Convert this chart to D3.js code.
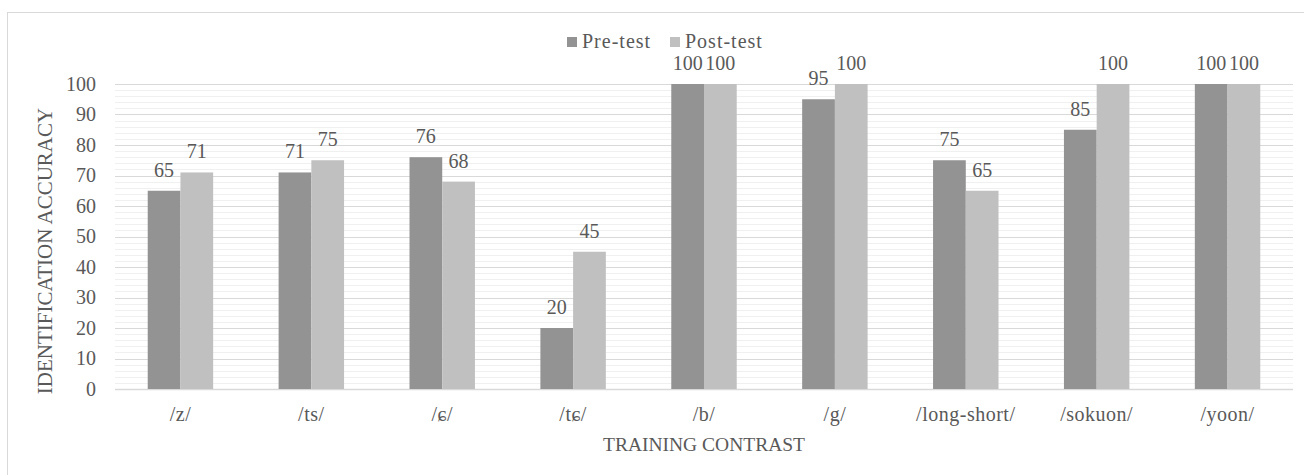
<html>
<head>
<script src="https://d3js.org/d3.v7.min.js"></script>
<style>
  body { margin: 0; background: #fff; }
  .lbl { font-family: "Liberation Serif"; fill: #595959; }
</style>
</head>
<body>
<svg id="chart" width="1304" height="475"></svg>
<script>
const categories = ["/z/", "/ts/", "/ɕ/", "/tɕ/", "/b/", "/g/", "/long-short/", "/sokuon/", "/yoon/"];
const preTest = [65, 71, 76, 20, 100, 95, 75, 85, 100];
const postTest = [71, 75, 68, 45, 100, 100, 65, 100, 100];
const seriesNames = ["Pre-test", "Post-test"];
const yTicks = [0, 10, 20, 30, 40, 50, 60, 70, 80, 90, 100];

const colors = ["#939393", "#c0c0c0"];

const svg = d3.select("#chart");
const margin = { top: 84, right: 11, bottom: 86, left: 115 };
const width = 1304 - margin.left - margin.right;
const height = 475 - margin.top - margin.bottom;

// outer border
svg.append("rect")
  .attr("x", 7.5).attr("y", 12.5)
  .attr("width", 1300).attr("height", 470)
  .attr("fill", "none").attr("stroke", "#d9d9d9");

const g = svg.append("g").attr("transform", `translate(${margin.left},${margin.top})`);

const x = d3.scaleBand().domain(categories).range([0, width]).paddingInner(0.5).paddingOuter(0.25);
const xs = d3.scaleBand().domain(seriesNames).range([0, x.bandwidth()]);
const y = d3.scaleLinear().domain([0, 100]).range([height, 0]);

// minor gridlines
g.selectAll("line.minor").data(d3.range(2, 100, 2).filter(v => v % 10 !== 0))
  .join("line").attr("class", "minor")
  .attr("x1", 0).attr("x2", width)
  .attr("y1", d => Math.round(y(d)) + 0.5).attr("y2", d => Math.round(y(d)) + 0.5)
  .attr("stroke", "#f0f0f0");

// major gridlines
g.selectAll("line.major").data(yTicks)
  .join("line").attr("class", "major")
  .attr("x1", 0).attr("x2", width)
  .attr("y1", d => Math.round(y(d)) + 0.5).attr("y2", d => Math.round(y(d)) + 0.5)
  .attr("stroke", "#d9d9d9").attr("stroke-width", d => d === 0 ? 1.5 : 1);

// y axis labels
const yAxis = g.append("g").call(d3.axisLeft(y).tickValues(yTicks).tickSize(0).tickPadding(19));
yAxis.select(".domain").remove();
yAxis.selectAll("text").attr("class", "lbl").style("font-size", "20px");

// bars
const rows = categories.map((c, i) => ({ cat: c, vals: [preTest[i], postTest[i]] }));
const groups = g.selectAll("g.grp").data(rows).join("g")
  .attr("class", "grp")
  .attr("transform", d => `translate(${x(d.cat)},0)`);

groups.selectAll("rect").data(d => d.vals.map((v, j) => ({ s: seriesNames[j], v, j })))
  .join("rect")
  .attr("x", d => xs(d.s))
  .attr("y", d => y(d.v))
  .attr("width", xs.bandwidth())
  .attr("height", d => y(0) - y(d.v))
  .attr("fill", d => colors[d.j]);

groups.selectAll("text").data(d => d.vals.map((v, j) => ({ s: seriesNames[j], v, j })))
  .join("text")
  .attr("class", "lbl")
  .attr("x", d => xs(d.s) + xs.bandwidth() / 2)
  .attr("y", d => y(d.v) - 14)
  .attr("text-anchor", "middle")
  .style("font-size", "20px")
  .text(d => d.v);

// x axis labels
const xAxis = g.append("g").attr("transform", `translate(0,${height})`)
  .call(d3.axisBottom(x).tickSize(0).tickPadding(18));
xAxis.select(".domain").remove();
xAxis.selectAll("text").attr("class", "lbl")
  .style("font-size", "20px").style("letter-spacing", "0.5px");

// axis titles
svg.append("text")
  .attr("class", "lbl")
  .attr("x", margin.left + width / 2).attr("y", 451)
  .attr("text-anchor", "middle")
  .style("font-size", "19.5px")
  .text("TRAINING CONTRAST");

svg.append("text")
  .attr("class", "lbl")
  .attr("transform", "translate(52,251) rotate(-90)")
  .attr("text-anchor", "middle")
  .style("font-size", "21px")
  .text("IDENTIFICATION ACCURACY");

// legend
const legend = svg.append("g").attr("transform", "translate(567,37)");
const legendX = [0, 103];
seriesNames.forEach((s, i) => {
  const lg = legend.append("g").attr("transform", `translate(${legendX[i]},0)`);
  lg.append("rect").attr("width", 10).attr("height", 10).attr("fill", colors[i]);
  lg.append("text").attr("class", "lbl").attr("x", 15).attr("y", 11)
    .style("font-size", "20px").style("letter-spacing", "1px")
    .text(s);
});
</script>
</body>
</html>
